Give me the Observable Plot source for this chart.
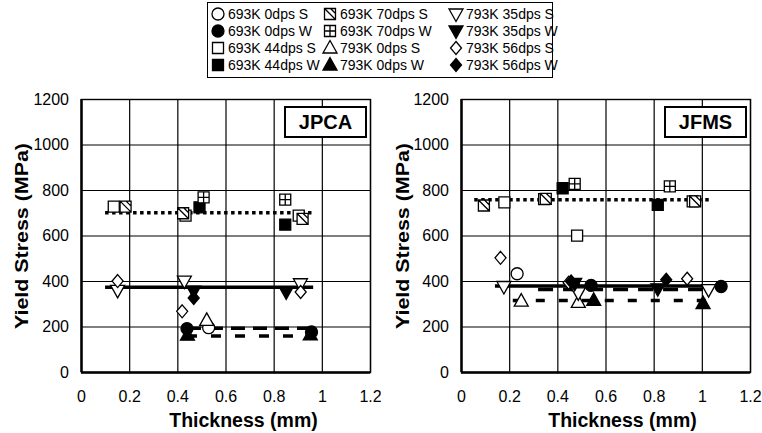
<!DOCTYPE html>
<html><head><meta charset="utf-8">
<script src="https://cdn.jsdelivr.net/npm/d3@7"></script>
<script src="https://cdn.jsdelivr.net/npm/@observablehq/plot@0.6"></script>
<style>
body{margin:0;background:#fff;font-family:"Liberation Sans",Arial,sans-serif;}
#wrap{position:relative;width:762px;height:433px;overflow:hidden;background:#fff;}
.panel{position:absolute;top:80px;}
.tag{position:absolute;box-sizing:border-box;border:2px solid #000;background:#fff;font-weight:bold;font-size:20px;display:flex;align-items:center;justify-content:center;}
#legend{position:absolute;box-sizing:border-box;border:1.5px solid #000;background:#fff;}
.li{position:absolute;font-size:14px;line-height:14px;height:14px;white-space:nowrap;}
.li svg{position:absolute;overflow:visible;}
</style></head><body><div id="wrap"></div>
<script>
// ---------- data ----------
const seriesNames = ["693K 0dps S","693K 0dps W","693K 44dps S","693K 44dps W","693K 70dps S","693K 70dps W",
                     "793K 0dps S","793K 0dps W","793K 35dps S","793K 35dps W","793K 56dps S","793K 56dps W"];
const xTicks = [0,0.2,0.4,0.6,0.8,1,1.2];
const yTicks = [0,200,400,600,800,1000,1200];

// JPCA panel points
const jpcaSeries = ["693K 0dps S","693K 0dps W","693K 0dps W",
  "693K 44dps S","693K 44dps S","693K 44dps S","693K 44dps W","693K 44dps W",
  "693K 70dps S","693K 70dps S","693K 70dps S","693K 70dps W","693K 70dps W",
  "793K 0dps S","793K 0dps W","793K 0dps W",
  "793K 35dps S","793K 35dps S","793K 35dps S","793K 35dps W","793K 35dps W",
  "793K 56dps S","793K 56dps S","793K 56dps S","793K 56dps W"];
const jpcaThickness = [0.528,0.438,0.955,
  0.134,0.432,0.902,0.49,0.846,
  0.183,0.422,0.918,0.507,0.846,
  0.52,0.44,0.95,
  0.15,0.427,0.909,0.466,0.85,
  0.15,0.418,0.91,0.466];
const jpcaStress = [197,193,178,
  729,690,690,726,650,
  729,700,675,770,760,
  229,164,165,
  361,402,390,358,354,
  402,269,354,328];
// JPCA fitted lines
const jpcaFitStress = [702,375,195,160];
const jpcaFitFrom = [0.1,0.1,0.44,0.44];
const jpcaFitTo = [0.957,0.964,0.96,0.96];

// JFMS panel points
const jfmsSeries = ["693K 0dps S","693K 0dps W","693K 0dps W","693K 0dps W",
  "693K 44dps S","693K 44dps S","693K 44dps S","693K 44dps S","693K 44dps W","693K 44dps W",
  "693K 70dps S","693K 70dps S","693K 70dps S","693K 70dps W","693K 70dps W",
  "793K 0dps S","793K 0dps S","793K 0dps W","793K 0dps W",
  "793K 35dps S","793K 35dps S","793K 35dps S","793K 35dps W","793K 35dps W",
  "793K 56dps S","793K 56dps S","793K 56dps S","793K 56dps W","793K 56dps W"];
const jfmsThickness = [0.231,0.465,0.538,1.078,
  0.178,0.343,0.48,0.96,0.42,0.815,
  0.093,0.35,0.97,0.47,0.865,
  0.248,0.485,0.549,1.003,
  0.176,0.485,1.026,0.47,0.815,
  0.162,0.445,0.937,0.455,0.85];
const jfmsStress = [434,385,383,378,
  748,762,602,752,810,737,
  734,763,752,829,818,
  314,308,317,303,
  378,350,364,392,368,
  504,395,412,400,408];
// JFMS fitted lines
const jfmsFitStress = [759,380,365,317];
const jfmsFitFrom = [0.055,0.141,0.32,0.215];
const jfmsFitTo = [1.03,1.047,1.03,1.025];

// ---------- styles ----------
const lineStyles = [
  {strokeWidth:3.5, strokeDasharray:"3.5,3.5"},
  {strokeWidth:3.5},
  {strokeWidth:3.5, strokeDasharray:"14,8"},
  {strokeWidth:3.5, strokeDasharray:"10,14"}
];
const jfmsLineStyles = [
  lineStyles[0], lineStyles[1],
  {strokeWidth:3.5, strokeDasharray:"15,10"},
  {strokeWidth:3.5, strokeDasharray:"9,14"}
];

function shape(kind){
  return {draw(ctx,size){
    const s = Math.sqrt(size/Math.PI)/6;
    const h = 5.5*s;
    if(kind==="circle"){ ctx.moveTo(6*s,0); ctx.arc(0,0,6*s,0,2*Math.PI); }
    else if(kind==="square"||kind==="sqdiag"||kind==="sqplus"){
      ctx.moveTo(-h,-h); ctx.lineTo(h,-h); ctx.lineTo(h,h); ctx.lineTo(-h,h); ctx.closePath();
      if(kind==="sqdiag"){ ctx.moveTo(-h,-h); ctx.lineTo(h,h); ctx.moveTo(h*0.1,-h); ctx.lineTo(h,-h*0.1); }
      if(kind==="sqplus"){ ctx.moveTo(0,-h); ctx.lineTo(0,h); ctx.moveTo(-h,0); ctx.lineTo(h,0); }
    }
    else if(kind==="triup"){ ctx.moveTo(0,-7.5*s); ctx.lineTo(7*s,5*s); ctx.lineTo(-7*s,5*s); ctx.closePath(); }
    else if(kind==="tridown"){ ctx.moveTo(0,7.5*s); ctx.lineTo(7*s,-5*s); ctx.lineTo(-7*s,-5*s); ctx.closePath(); }
    else if(kind==="diamond"){ ctx.moveTo(0,-6.5*s); ctx.lineTo(5.5*s,0); ctx.lineTo(0,6.5*s); ctx.lineTo(-5.5*s,0); ctx.closePath(); }
  }};
}
const seriesStyle = {
  "693K 0dps S":{k:"circle",f:"white"}, "693K 0dps W":{k:"circle",f:"black"},
  "693K 44dps S":{k:"square",f:"white"}, "693K 44dps W":{k:"square",f:"black"},
  "693K 70dps S":{k:"sqdiag",f:"white"}, "693K 70dps W":{k:"sqplus",f:"white"},
  "793K 0dps S":{k:"triup",f:"white"}, "793K 0dps W":{k:"triup",f:"black"},
  "793K 35dps S":{k:"tridown",f:"white"}, "793K 35dps W":{k:"tridown",f:"black"},
  "793K 56dps S":{k:"diamond",f:"white"}, "793K 56dps W":{k:"diamond",f:"black"}
};

function makePanel(thick, stress, series, fitS, fitF, fitT, styles, ml, mr, ylDx, xlDx){
  const pts = thick.map((t,i)=>({x:t, y:stress[i], s:series[i]}));
  const fits = fitS.map((v,i)=>({y:v, x1:fitF[i], x2:fitT[i]}));
  const marks = [
    Plot.ruleX(xTicks, {stroke:"black", strokeWidth:1.2}),
    Plot.ruleY(yTicks, {stroke:"black", strokeWidth:1.2}),
    Plot.frame({stroke:"black", strokeWidth:1.4}),
    Plot.ruleX([0], {stroke:"black", strokeWidth:2.4}),
    Plot.ruleY([0], {stroke:"black", strokeWidth:2.4}),
    Plot.axisX(xTicks, {tickSize:0, tickPadding:18, fontSize:16, tickFormat:d=>String(+d.toFixed(1)), label:null}),
    Plot.axisY(yTicks, {tickSize:0, tickPadding:12.5, fontSize:16, tickFormat:d=>String(d), label:null})
  ];
  fits.forEach((f,i)=>marks.push(Plot.ruleY([f], {y:"y", x1:"x1", x2:"x2", stroke:"black", strokeLinecap:"butt", ...styles[i]})));
  seriesNames.forEach(n=>{
    const st = seriesStyle[n];
    marks.push(Plot.dot(pts.filter(d=>d.s===n), {x:"x", y:"y", r:6, symbol:shape(st.k), fill:st.f, stroke:"black", strokeWidth:1.3}));
  });
  marks.push(Plot.text(["Yield Stress (MPa)"], {frameAnchor:"left", dx:ylDx, rotate:-90, textAnchor:"middle", lineAnchor:"middle", fontSize:18, fontWeight:"bold", fill:"black"}));
  marks.push(Plot.text(["Thickness (mm)"], {frameAnchor:"bottom", dy:48, dx:xlDx, textAnchor:"middle", lineAnchor:"middle", fontSize:19.5, fontWeight:"bold", fill:"black"}));
  const svg = Plot.plot({
    width:381, height:353, marginTop:19, marginBottom:61, marginLeft:ml, marginRight:mr,
    style:{fontFamily:"'Liberation Sans', Arial, sans-serif", color:"black", background:"white", overflow:"visible"},
    x:{domain:[0,1.2]}, y:{domain:[0,1200]},
    marks
  });
  d3.select(svg).selectAll('text').filter(function(){return this.textContent==="Yield Stress (MPa)";})
    .attr("textLength",186).attr("lengthAdjust","spacingAndGlyphs");
  return svg;
}

const wrap = document.getElementById("wrap");
const left = makePanel(jpcaThickness, jpcaStress, jpcaSeries, jpcaFitStress, jpcaFitFrom, jpcaFitTo, lineStyles, 81, 11, -59, 17.5);
left.classList.add("panel"); left.style.left="0px"; wrap.appendChild(left);
const right = makePanel(jfmsThickness, jfmsStress, jfmsSeries, jfmsFitStress, jfmsFitFrom, jfmsFitTo, jfmsLineStyles, 80, 12, -58, 16.5);
right.classList.add("panel"); right.style.left="381px"; wrap.appendChild(right);

// panel tags
[["JPCA",284],["JFMS",664]].forEach(([t,x])=>{
  const d=document.createElement("div"); d.className="tag"; d.textContent=t;
  Object.assign(d.style,{left:x+"px", top:"106px", width:"83px", height:"32px"});
  wrap.appendChild(d);
});

// legend
const lg = document.createElement("div"); lg.id="legend";
Object.assign(lg.style,{left:"207px", top:"2px", width:"346px", height:"76px"});
wrap.appendChild(lg);
const colMarker = [218, 330, 456];
const rowY = [14, 31, 48, 65];
seriesNames.forEach((n,i)=>{
  const c = Math.floor(i/4), r = i%4;
  const it = document.createElement("div"); it.className="li";
  it.style.left = (colMarker[c]+10)+"px"; it.style.top = (rowY[r]-7)+"px";
  const st = seriesStyle[n];
  const p = d3.path(); shape(st.k).draw(p, 36*Math.PI);
  const sv = d3.create("svg").attr("width",14).attr("height",14).style("left","-17px").style("top","0px");
  sv.append("path").attr("transform","translate(7,7)").attr("d",p.toString()).attr("fill",st.f).attr("stroke","black").attr("stroke-width",1.3);
  it.appendChild(sv.node());
  const tx = document.createElement("span"); tx.textContent=n;
  it.appendChild(tx);
  wrap.appendChild(it);
});
</script>
</body></html>
